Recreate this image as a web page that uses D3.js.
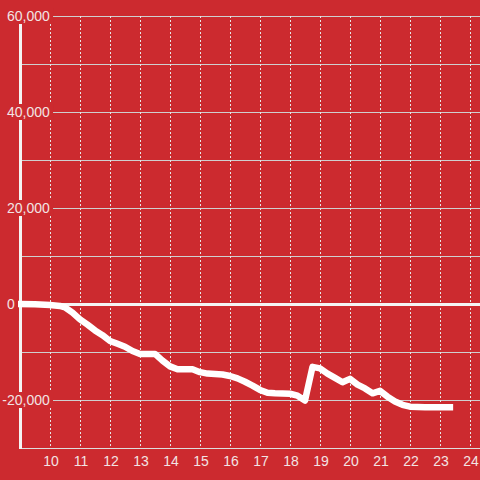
<!DOCTYPE html>
<html>
<head>
<meta charset="utf-8">
<script src="https://cdn.jsdelivr.net/npm/d3@7"></script>
<style>
  html, body { margin: 0; padding: 0; background: #cc2a2f; }
  svg { display: block; font-family: "Liberation Sans", Arial, sans-serif; }
</style>
</head>
<body>
<svg width="480" height="480"></svg>
<script>
(function (d3) {
  'use strict';

  // hour of day (decimal) and running value
  const hours = [9.0, 9.5, 10.0, 10.33, 10.5, 10.75, 11.0, 11.25, 11.5, 11.75,
    12.0, 12.25, 12.5, 12.75, 13.0, 13.5, 13.75, 14.0, 14.25, 14.75,
    15.0, 15.25, 15.75, 16.0, 16.25, 16.5, 16.75, 17.0, 17.25, 17.5,
    18.0, 18.25, 18.5, 18.75, 19.0, 19.25, 19.5, 19.75, 20.0, 20.25,
    20.5, 20.75, 21.0, 21.25, 21.5, 21.75, 22.0, 22.5, 23.33];
  const values = [0, -50, -200, -400, -700, -1800, -3200, -4300, -5500, -6500,
    -7700, -8300, -8900, -9800, -10400, -10400, -11800, -13000, -13600, -13600,
    -14200, -14500, -14700, -15000, -15500, -16200, -17000, -17900, -18500, -18600,
    -18700, -19100, -20100, -13100, -13400, -14500, -15400, -16300, -15600, -16800,
    -17600, -18600, -18100, -19300, -20300, -21000, -21400, -21500, -21500];

  const xTicks = [10, 11, 12, 13, 14, 15, 16, 17, 18, 19, 20, 21, 22, 23, 24];
  const yTicks = [60000, 40000, 20000, 0, -20000];
  const yTickLabels = ['60,000', '40,000', '20,000', '0', '-20,000'];
  const yGrid = [60000, 50000, 40000, 30000, 20000, 10000, -10000, -20000];

  const bg = '#cc2a2f';
  const svg = d3.select('svg');
  const width = +svg.attr('width');

  const x = d3.scaleLinear().domain([9, 24 + 1 / 3]).range([20, width]);
  const y = d3.scaleLinear().domain([-30000, 60000]).range([448, 16]);

  svg.append('rect')
    .attr('width', width).attr('height', +svg.attr('height'))
    .attr('fill', bg);

  // horizontal grid
  svg.append('g').selectAll('line')
    .data(yGrid)
    .enter().append('line')
    .attr('x1', 21).attr('x2', width)
    .attr('y1', d => Math.round(y(d)) + 0.5)
    .attr('y2', d => Math.round(y(d)) + 0.5)
    .attr('stroke', '#cfcfcf')
    .attr('stroke-width', 1);

  // vertical dotted grid
  svg.append('g').selectAll('line')
    .data(xTicks)
    .enter().append('line')
    .attr('x1', d => Math.round(x(d)) + 0.5)
    .attr('x2', d => Math.round(x(d)) + 0.5)
    .attr('y1', 16).attr('y2', 448)
    .attr('stroke', '#e6e6e6')
    .attr('stroke-dasharray', '2,2')
    .attr('stroke-width', 1);

  // bottom axis line
  svg.append('line')
    .attr('x1', 20).attr('x2', width)
    .attr('y1', y(-30000) + 0.5).attr('y2', y(-30000) + 0.5)
    .attr('stroke', '#dddddd');

  // zero line
  svg.append('line')
    .attr('x1', 20).attr('x2', width)
    .attr('y1', y(0) + 0.5).attr('y2', y(0) + 0.5)
    .attr('stroke', '#f4f4f4')
    .attr('stroke-width', 3);

  // y axis
  svg.append('line')
    .attr('x1', 20.5).attr('x2', 20.5)
    .attr('y1', y(60000)).attr('y2', y(-30000) + 1)
    .attr('stroke', '#f4f4f4')
    .attr('stroke-width', 3);

  // data line
  const lineGen = d3.line()
    .x((d, i) => x(hours[i]))
    .y(d => y(d));

  svg.append('path')
    .datum(values)
    .attr('d', lineGen)
    .attr('fill', 'none')
    .attr('stroke', '#ffffff')
    .attr('stroke-width', 6.5)
    .attr('stroke-linejoin', 'round')
    .attr('stroke-linecap', 'square');

  // x tick labels
  svg.append('g').selectAll('text')
    .data(xTicks)
    .enter().append('text')
    .attr('x', d => x(d) + 1)
    .attr('y', 466)
    .attr('text-anchor', 'middle')
    .attr('font-size', 14)
    .attr('fill', '#f2e4e4')
    .text(d => d);

  // y tick labels with a background patch
  const minusProbe = svg.append('text').attr('font-size', 14).text('-');
  const minusW = minusProbe.node().getComputedTextLength();
  minusProbe.remove();

  const yLabelG = svg.append('g');
  yTicks.forEach((t, i) => {
    const label = yTickLabels[i];
    const g = yLabelG.append('g');
    const rect = g.append('rect').attr('fill', bg);
    const text = g.append('text')
      .attr('x', label[0] === '-' ? 7 - minusW : 7)
      .attr('y', y(t))
      .attr('dy', '0.35em')
      .attr('font-size', 14)
      .attr('fill', '#f2e4e4')
      .text(label);
    const box = text.node().getBBox();
    rect.attr('x', 0)
      .attr('y', y(t) - 8)
      .attr('width', box.x + box.width + 3)
      .attr('height', 16);
  });

}(d3));
</script>
</body>
</html>
